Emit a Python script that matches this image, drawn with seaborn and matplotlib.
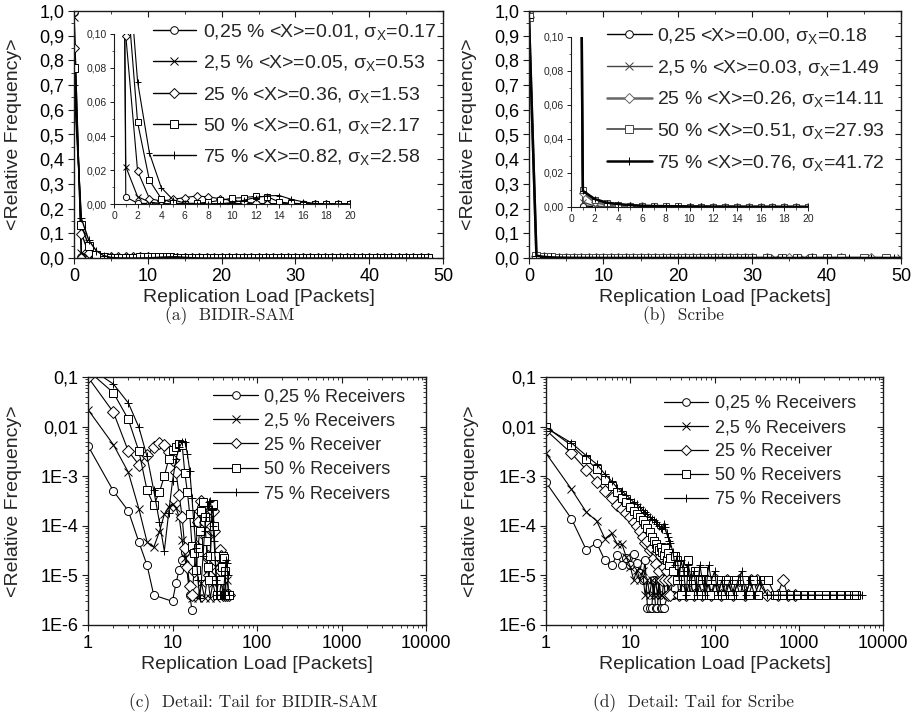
import pandas as pd
import matplotlib
matplotlib.use("Agg")
import matplotlib.pyplot as plt
import seaborn as sns
from matplotlib.ticker import MultipleLocator, FuncFormatter, NullFormatter

# ---------------- data ----------------
markers = ["o", "x", "D", "s", "+"]

sam_legend = [
    "0,25 % <X>=0.01, σ$_\\mathregular{X}$=0.17",
    "2,5 % <X>=0.05, σ$_\\mathregular{X}$=0.53",
    "25 % <X>=0.36, σ$_\\mathregular{X}$=1.53",
    "50 % <X>=0.61, σ$_\\mathregular{X}$=2.17",
    "75 % <X>=0.82, σ$_\\mathregular{X}$=2.58",
]
scribe_legend = [
    "0,25 <X>=0.00, σ$_\\mathregular{X}$=0.18",
    "2,5 % <X>=0.03, σ$_\\mathregular{X}$=1.49",
    "25 % <X>=0.26, σ$_\\mathregular{X}$=14.11",
    "50 % <X>=0.51, σ$_\\mathregular{X}$=27.93",
    "75 % <X>=0.76, σ$_\\mathregular{X}$=41.72",
]
tail_legend = ["0,25 % Receivers", "2,5 % Receivers", "25 % Receiver",
               "50 % Receivers", "75 % Receivers"]

# BIDIR-SAM, replication load 0..48 packets (0 = never observed)
sam_load = list(range(49))
sam_025 = [0.995, 4.1e-3, 5.0e-4, 2.0e-4, 4.7e-5, 1.6e-5, 4e-6, 0, 0, 0,
           3e-6, 7e-6, 1.3e-5, 2e-5, 3e-5, 0, 4e-6, 2e-6, 0, 0,
           0, 0, 0, 0, 0, 0, 0, 0, 0, 0,
           0, 0, 0, 0, 0, 0, 0, 0, 0, 0,
           0, 0, 0, 0, 0, 0, 0, 0, 0]
sam_25 = [0.975, 0.022, 4.3e-3, 1.2e-3, 2.2e-4, 4.7e-5, 3.7e-5, 7.6e-5, 1.7e-4, 2.4e-4,
          2.8e-4, 2.3e-4, 1.5e-4, 5.2e-5, 2.2e-5, 0, 0, 3.5e-6, 0, 0,
          3.5e-6, 0, 7e-6, 0, 3.5e-6, 0, 1e-5, 0, 3.5e-6, 0,
          7e-6, 0, 0, 3.5e-6, 0, 0, 1.2e-5, 0, 0, 0,
          4e-6, 0, 0, 0, 8e-6, 0, 0, 4e-6, 0]
sam_250 = [0.85, 0.099, 0.0194, 3.2e-3, 1.7e-3, 2.7e-3, 3.8e-3, 4.7e-3, 4.2e-3, 3.1e-3,
           2.1e-3, 1.2e-3, 4.2e-4, 1.5e-4, 3.5e-5, 1.5e-5, 6e-6, 4e-6, 1.2e-5, 4e-5,
           1.2e-4, 2e-4, 3.1e-4, 2.5e-4, 1.2e-4, 6e-5, 2.5e-5, 1e-5, 2e-5, 1e-4,
           2e-4, 8e-5, 2e-5, 8e-6, 1.2e-5, 2.5e-5, 3.2e-5, 2.5e-5, 1.2e-5, 8e-6,
           4e-6, 0, 4e-6, 0, 4e-6, 0, 4e-6, 0, 0]
sam_500 = [0.77, 0.135, 0.048, 0.014, 3.2e-3, 5.2e-4, 2.6e-4, 4.8e-4, 1.0e-3, 2.2e-3,
           3.4e-3, 3.8e-3, 4.5e-3, 4.3e-3, 1.15e-3, 4.8e-4, 1.7e-4, 4e-5, 2.8e-5, 1.3e-5,
           3.5e-5, 8e-5, 2e-4, 3e-4, 1.5e-4, 5e-5, 1.5e-5, 8e-6, 2.5e-5, 2.5e-4,
           2.8e-4, 1e-4, 2.5e-5, 8e-6, 4e-6, 0, 4e-6, 0, 8e-6, 1.5e-5,
           2.5e-5, 2.2e-5, 1.2e-5, 4e-6, 4e-6, 4e-6, 4e-6, 0, 0]
sam_750 = [0.70, 0.16, 0.072, 0.030, 9.7e-3, 2.5e-3, 5.2e-4, 1.2e-4, 3.1e-5, 1.8e-4,
           8e-4, 2.2e-3, 3.8e-3, 4.8e-3, 5e-3, 2.8e-3, 1.3e-3, 3.6e-4, 1e-4, 3.5e-5,
           8e-6, 3.5e-6, 8e-6, 2.5e-5, 8e-5, 1.5e-4, 2.5e-4, 3e-4, 3.2e-4, 2.2e-4,
           1e-4, 5e-5, 2e-5, 8e-6, 4e-6, 0, 4e-6, 0, 4e-6, 0,
           4e-6, 0, 1.2e-5, 2e-5, 1.8e-5, 1e-5, 4e-6, 4e-6, 0]

# Scribe, replication load 0..30 packets plus the long tail
scribe_load = list(range(31))
scribe_025 = [0.9985, 7.5e-4, 1.4e-4, 3.3e-5, 4.5e-5, 2e-5, 1.6e-5, 2.6e-5, 1.6e-5, 2.2e-5,
              1.6e-5, 2.7e-5, 1.8e-5, 1.1e-5, 8e-6, 2e-5, 2.2e-6, 2.2e-6, 2.2e-6, 8e-6,
              2.2e-6, 2.2e-6, 8e-6, 2.2e-6, 2.2e-6, 2.2e-6, 0, 0, 4e-6, 0, 0]
scribe_25 = [0.99, 2.9e-3, 5.5e-4, 1.9e-4, 1.25e-4, 5.5e-5, 7e-5, 4.3e-5, 4.2e-5, 2.3e-5,
             1.5e-5, 8e-6, 1.3e-5, 8e-6, 1.2e-5, 4e-6, 8e-6, 4e-6, 8e-6, 4e-6,
             8e-6, 4e-6, 8e-6, 4e-6, 4e-6, 8e-6, 4e-6, 0, 4e-6, 0, 4e-6]
scribe_250 = [0.975, 8.5e-3, 2.9e-3, 1.35e-3, 7.7e-4, 5e-4, 3.7e-4, 2.6e-4, 2.15e-4, 1.8e-4,
              1.5e-4, 1.2e-4, 1e-4, 8e-5, 6e-5, 4.5e-5, 5e-5, 3.2e-5, 3.5e-5, 2.2e-5,
              1.7e-5, 3e-5, 1.2e-5, 2.5e-5, 8e-6, 1.5e-5, 8e-6, 1.2e-5, 4e-6, 8e-6, 4e-6]
scribe_500 = [0.975, 9.8e-3, 4.2e-3, 2.2e-3, 1.4e-3, 8.5e-4, 6.3e-4, 4.8e-4, 3.6e-4, 3e-4,
              2.4e-4, 2e-4, 1.7e-4, 1.5e-4, 1.3e-4, 1.1e-4, 9e-5, 7.5e-5, 6e-5, 5e-5,
              4.2e-5, 3.5e-5, 3.2e-5, 3.8e-5, 3e-5, 2.6e-5, 3.5e-5, 2e-5, 2.8e-5, 1.6e-5, 2.2e-5]
scribe_750 = [0.972, 9.5e-3, 4.7e-3, 2.6e-3, 1.75e-3, 1.1e-3, 8e-4, 5.8e-4, 5e-4, 4.2e-4,
              3.5e-4, 3e-4, 2.7e-4, 2.4e-4, 2.1e-4, 1.9e-4, 1.7e-4, 1.5e-4, 1.4e-4, 1.3e-4,
              1.2e-4, 1.1e-4, 1e-4, 9e-5, 8.5e-5, 1.1e-4, 9.5e-5, 7e-5, 6e-5, 5e-5, 4.5e-5]

scribe_tail_x_025 = [32]
scribe_tail_y_025 = [4e-6]
scribe_tail_x_25 = [33, 37, 42, 50, 60]
scribe_tail_y_25 = [4e-6, 4e-6, 4e-6, 4e-6, 4e-6]
scribe_tail_x_250 = [32, 35, 38, 42, 46, 51, 57, 64, 72, 81, 92, 105, 120, 140, 165,
                     195, 230, 270, 320, 420, 560, 650, 740, 900]
scribe_tail_y_250 = [8e-6, 1.2e-5, 4e-6, 8e-6, 4e-6, 8e-6, 4e-6, 8e-6, 4e-6, 8e-6,
                     4e-6, 8e-6, 4e-6, 8e-6, 4e-6, 8e-6, 4e-6, 8e-6, 8e-6, 4e-6,
                     4e-6, 8e-6, 4e-6, 4e-6]
scribe_tail_x_500 = [32, 34, 36, 38, 40, 42, 45, 48, 51, 55, 59, 63, 68, 73, 79,
                     85, 92, 100, 110, 120, 132, 146, 162, 180, 200, 225, 255, 290, 330, 380,
                     430, 520, 640, 780, 950, 1150, 1400, 1700, 2100, 2600, 3200, 3900, 4800]
scribe_tail_y_500 = [1.2e-5, 2.5e-5, 8e-6, 1.6e-5, 4e-6, 1.2e-5, 8e-6, 2e-5, 4e-6, 8e-6,
                     1.2e-5, 4e-6, 8e-6, 1.2e-5, 4e-6, 8e-6, 4e-6, 8e-6, 4e-6, 8e-6,
                     4e-6, 8e-6, 4e-6, 8e-6, 4e-6, 8e-6, 4e-6, 8e-6, 4e-6, 8e-6,
                     8e-6, 4e-6, 4e-6, 4e-6, 4e-6, 4e-6, 4e-6, 4e-6, 4e-6, 4e-6,
                     4e-6, 4e-6, 4e-6]
scribe_tail_x_750 = [32, 34, 36, 38, 40, 43, 46, 49, 53, 57, 62, 67, 72, 78, 85,
                     92, 100, 110, 122, 136, 152, 170, 190, 210, 235, 265, 300, 350, 420, 500,
                     600, 720, 870, 1050, 1280, 1550, 1900, 2300, 2800, 3400, 4100, 5000, 5600]
scribe_tail_y_750 = [3e-5, 1.6e-5, 2.5e-5, 8e-6, 2e-5, 1.2e-5, 4e-6, 1.6e-5, 8e-6, 1.2e-5,
                     4e-6, 1.6e-5, 8e-6, 4e-6, 1.6e-5, 8e-6, 1.2e-5, 4e-6, 8e-6, 4e-6,
                     8e-6, 4e-6, 8e-6, 1.2e-5, 4e-6, 8e-6, 4e-6, 8e-6, 4e-6, 4e-6,
                     4e-6, 4e-6, 4e-6, 4e-6, 4e-6, 4e-6, 4e-6, 4e-6, 4e-6, 4e-6,
                     4e-6, 4e-6, 4e-6]

sam_series = [sam_025, sam_25, sam_250, sam_500, sam_750]
scribe_series = [
    (scribe_load + scribe_tail_x_025, scribe_025 + scribe_tail_y_025),
    (scribe_load + scribe_tail_x_25, scribe_25 + scribe_tail_y_25),
    (scribe_load + scribe_tail_x_250, scribe_250 + scribe_tail_y_250),
    (scribe_load + scribe_tail_x_500, scribe_500 + scribe_tail_y_500),
    (scribe_load + scribe_tail_x_750, scribe_750 + scribe_tail_y_750),
]

# ---------------- style ----------------
sns.set_theme(style="ticks")
plt.rcParams["font.family"] = ["Liberation Sans", "DejaVu Sans"]
plt.rcParams["mathtext.default"] = "regular"

INK = "#1a1a1a"
scribe_colors = ["black", "#444444", "#666666", "#444444", "black"]
scribe_widths = [1.0, 1.0, 1.8, 1.2, 1.8]


def draw(ax, x, y, marker, ms, lw=0.8, color="black", label=None, log=False):
    df = pd.DataFrame({"load": x, "freq": y})
    if log:
        df = df[(df["freq"] > 0) & (df["load"] >= 1)]
    sns.lineplot(data=df, x="load", y="freq", ax=ax, color=color, lw=lw,
                 marker=marker, markersize=ms, markerfacecolor="white",
                 markeredgecolor=color, markeredgewidth=0.7,
                 estimator=None, sort=True, label=label, legend=False)


def frame(ax, log=False, xmaj=None, xmin=None, ymaj=None, ymin=None):
    for s in ax.spines.values():
        s.set_linewidth(1.0)
        s.set_color(INK)
    ax.tick_params(which="both", direction="out", color=INK, labelcolor="black")
    ax.tick_params(which="major", length=4, width=0.8, labelsize=13, pad=3)
    ax.tick_params(which="minor", length=2.2, width=0.6)
    top = ax.secondary_xaxis("top")
    right = ax.secondary_yaxis("right")
    if not log:
        top.xaxis.set_major_locator(MultipleLocator(xmaj))
        top.xaxis.set_minor_locator(MultipleLocator(xmin))
        right.yaxis.set_major_locator(MultipleLocator(ymaj))
        right.yaxis.set_minor_locator(MultipleLocator(ymin))
    for sec in (top, right):
        for s in sec.spines.values():
            s.set_visible(False)
        sec.tick_params(which="both", direction="in", color=INK,
                        labeltop=False, labelright=False)
        sec.tick_params(which="major", length=4, width=0.8)
        sec.tick_params(which="minor", length=2.2, width=0.6)
    ax.set_xlabel("Replication Load [Packets]", fontsize=14)
    ax.set_ylabel("<Relative Frequency>", fontsize=14)


def linear_main(ax):
    ax.set_xlim(0, 50)
    ax.set_ylim(0, 1.0)
    ax.xaxis.set_major_locator(MultipleLocator(10))
    ax.xaxis.set_minor_locator(MultipleLocator(5))
    ax.yaxis.set_major_locator(MultipleLocator(0.1))
    ax.yaxis.set_minor_locator(MultipleLocator(0.05))
    ax.yaxis.set_major_formatter(FuncFormatter(lambda v, p: f"{v:.1f}".replace(".", ",")))
    frame(ax, xmaj=10, xmin=5, ymaj=0.1, ymin=0.05)
    ax.yaxis.set_label_coords(-0.14, 0.5)
    ax.xaxis.set_label_coords(0.5, -0.125)


def inset_axes(ax):
    ax.set_facecolor("none")
    ax.set_xlim(0, 20)
    ax.set_ylim(0, 0.1)
    ax.spines["top"].set_visible(False)
    ax.spines["right"].set_visible(False)
    for s in ("left", "bottom"):
        ax.spines[s].set_linewidth(0.8)
        ax.spines[s].set_color(INK)
    ax.xaxis.set_major_locator(MultipleLocator(2))
    ax.xaxis.set_minor_locator(MultipleLocator(1))
    ax.yaxis.set_major_locator(MultipleLocator(0.02))
    ax.yaxis.set_minor_locator(MultipleLocator(0.01))
    ax.yaxis.set_major_formatter(FuncFormatter(lambda v, p: f"{v:.2f}".replace(".", ",")))
    ax.tick_params(which="both", direction="out", color=INK)
    ax.tick_params(which="major", length=3, width=0.7, labelsize=7.5, pad=2)
    ax.tick_params(which="minor", length=1.8, width=0.5)
    ax.set_xlabel("")
    ax.set_ylabel("")


def log_axes(ax):
    ax.set_xscale("log")
    ax.set_yscale("log")
    ax.set_xlim(1, 10000)
    ax.set_ylim(1e-6, 0.1)
    ax.set_xticks([1, 10, 100, 1000, 10000], labels=["1", "10", "100", "1000", "10000"])
    ax.set_yticks([0.1, 0.01, 1e-3, 1e-4, 1e-5, 1e-6],
                  labels=["0,1", "0,01", "1E-3", "1E-4", "1E-5", "1E-6"])
    ax.xaxis.set_minor_formatter(NullFormatter())
    ax.yaxis.set_minor_formatter(NullFormatter())
    frame(ax, log=True)
    ax.xaxis.set_label_coords(0.5, -0.127)


W, H = 913, 719
fig = plt.figure(figsize=(W / 100, H / 100), dpi=100)


def box(l, t, r, b):
    return [l / W, 1 - b / H, (r - l) / W, (b - t) / H]


ax_a = fig.add_axes(box(74, 11, 443, 258))
ax_ai = fig.add_axes(box(114, 34, 350, 204))
ax_b = fig.add_axes(box(529, 11, 901, 258))
ax_bi = fig.add_axes(box(571, 37, 808, 207))
ax_c = fig.add_axes(box(88, 377, 426, 625))
ax_d = fig.add_axes(box(546, 377, 883, 625))

# (a) BIDIR-SAM
for vals, m, lab in zip(sam_series, markers, sam_legend):
    draw(ax_a, sam_load, vals, m, 5.5, lw=1.0, label=lab)
    draw(ax_ai, sam_load, vals, m, 4.5, lw=0.8)
    draw(ax_c, sam_load, vals, m, 5.8, lw=0.8, log=True)

# (b) Scribe
for (xs, ys), m, lab, c, w in zip(scribe_series, markers, scribe_legend,
                                  scribe_colors, scribe_widths):
    draw(ax_b, xs, ys, m, 5.5, lw=w, color=c, label=lab)
    draw(ax_bi, xs, ys, m, 4.5, lw=w, color=c)
    draw(ax_d, xs, ys, m, 5.8, lw=0.8, log=True)

linear_main(ax_a)
linear_main(ax_b)
ax_b.yaxis.set_label_coords(-0.139, 0.5)
inset_axes(ax_ai)
inset_axes(ax_bi)
log_axes(ax_c)
log_axes(ax_d)
ax_c.yaxis.set_label_coords(-0.194, 0.5)
ax_d.yaxis.set_label_coords(-0.2, 0.5)

# legends (drawn on the figure so they sit over the insets)
h, _ = ax_a.get_legend_handles_labels()
fig.legend(h, sam_legend, loc="upper left", bbox_to_anchor=(153 / W, 1 - 22 / H),
           frameon=False, fontsize=14, handlelength=2.2, handletextpad=0.38,
           labelspacing=0.58, borderpad=0, borderaxespad=0)
h, _ = ax_b.get_legend_handles_labels()
fig.legend(h, scribe_legend, loc="upper left", bbox_to_anchor=(607 / W, 1 - 26 / H),
           frameon=False, fontsize=14, handlelength=2.3, handletextpad=0.28,
           labelspacing=0.6, borderpad=0, borderaxespad=0)

tail_handles = [plt.Line2D([], [], color="black", lw=0.9, marker=m, markersize=5.5,
                           markerfacecolor="white", markeredgecolor="black",
                           markeredgewidth=0.7) for m in markers]
fig.legend(tail_handles, tail_legend, loc="upper left", bbox_to_anchor=(213 / W, 1 - 388 / H),
           frameon=False, fontsize=13, handlelength=2.5, handletextpad=0.35,
           labelspacing=0.41, borderpad=0, borderaxespad=0)
fig.legend(tail_handles, tail_legend, loc="upper left", bbox_to_anchor=(664 / W, 1 - 395 / H),
           frameon=False, fontsize=13, handlelength=2.45, handletextpad=0.35,
           labelspacing=0.39, borderpad=0, borderaxespad=0)

# captions
cap = dict(family="cmr10", fontsize=12.5, ha="center", va="center")
fig.text(230 / W, 1 - 316 / H, "(a)  BIDIR-SAM", **cap)
fig.text(683 / W, 1 - 316 / H, "(b)  Scribe", **cap)
fig.text(253 / W, 1 - 703 / H, "(c)  Detail: Tail for BIDIR-SAM", **cap)
fig.text(693 / W, 1 - 703 / H, "(d)  Detail: Tail for Scribe", **cap)

fig.savefig("out.png", dpi=100)
